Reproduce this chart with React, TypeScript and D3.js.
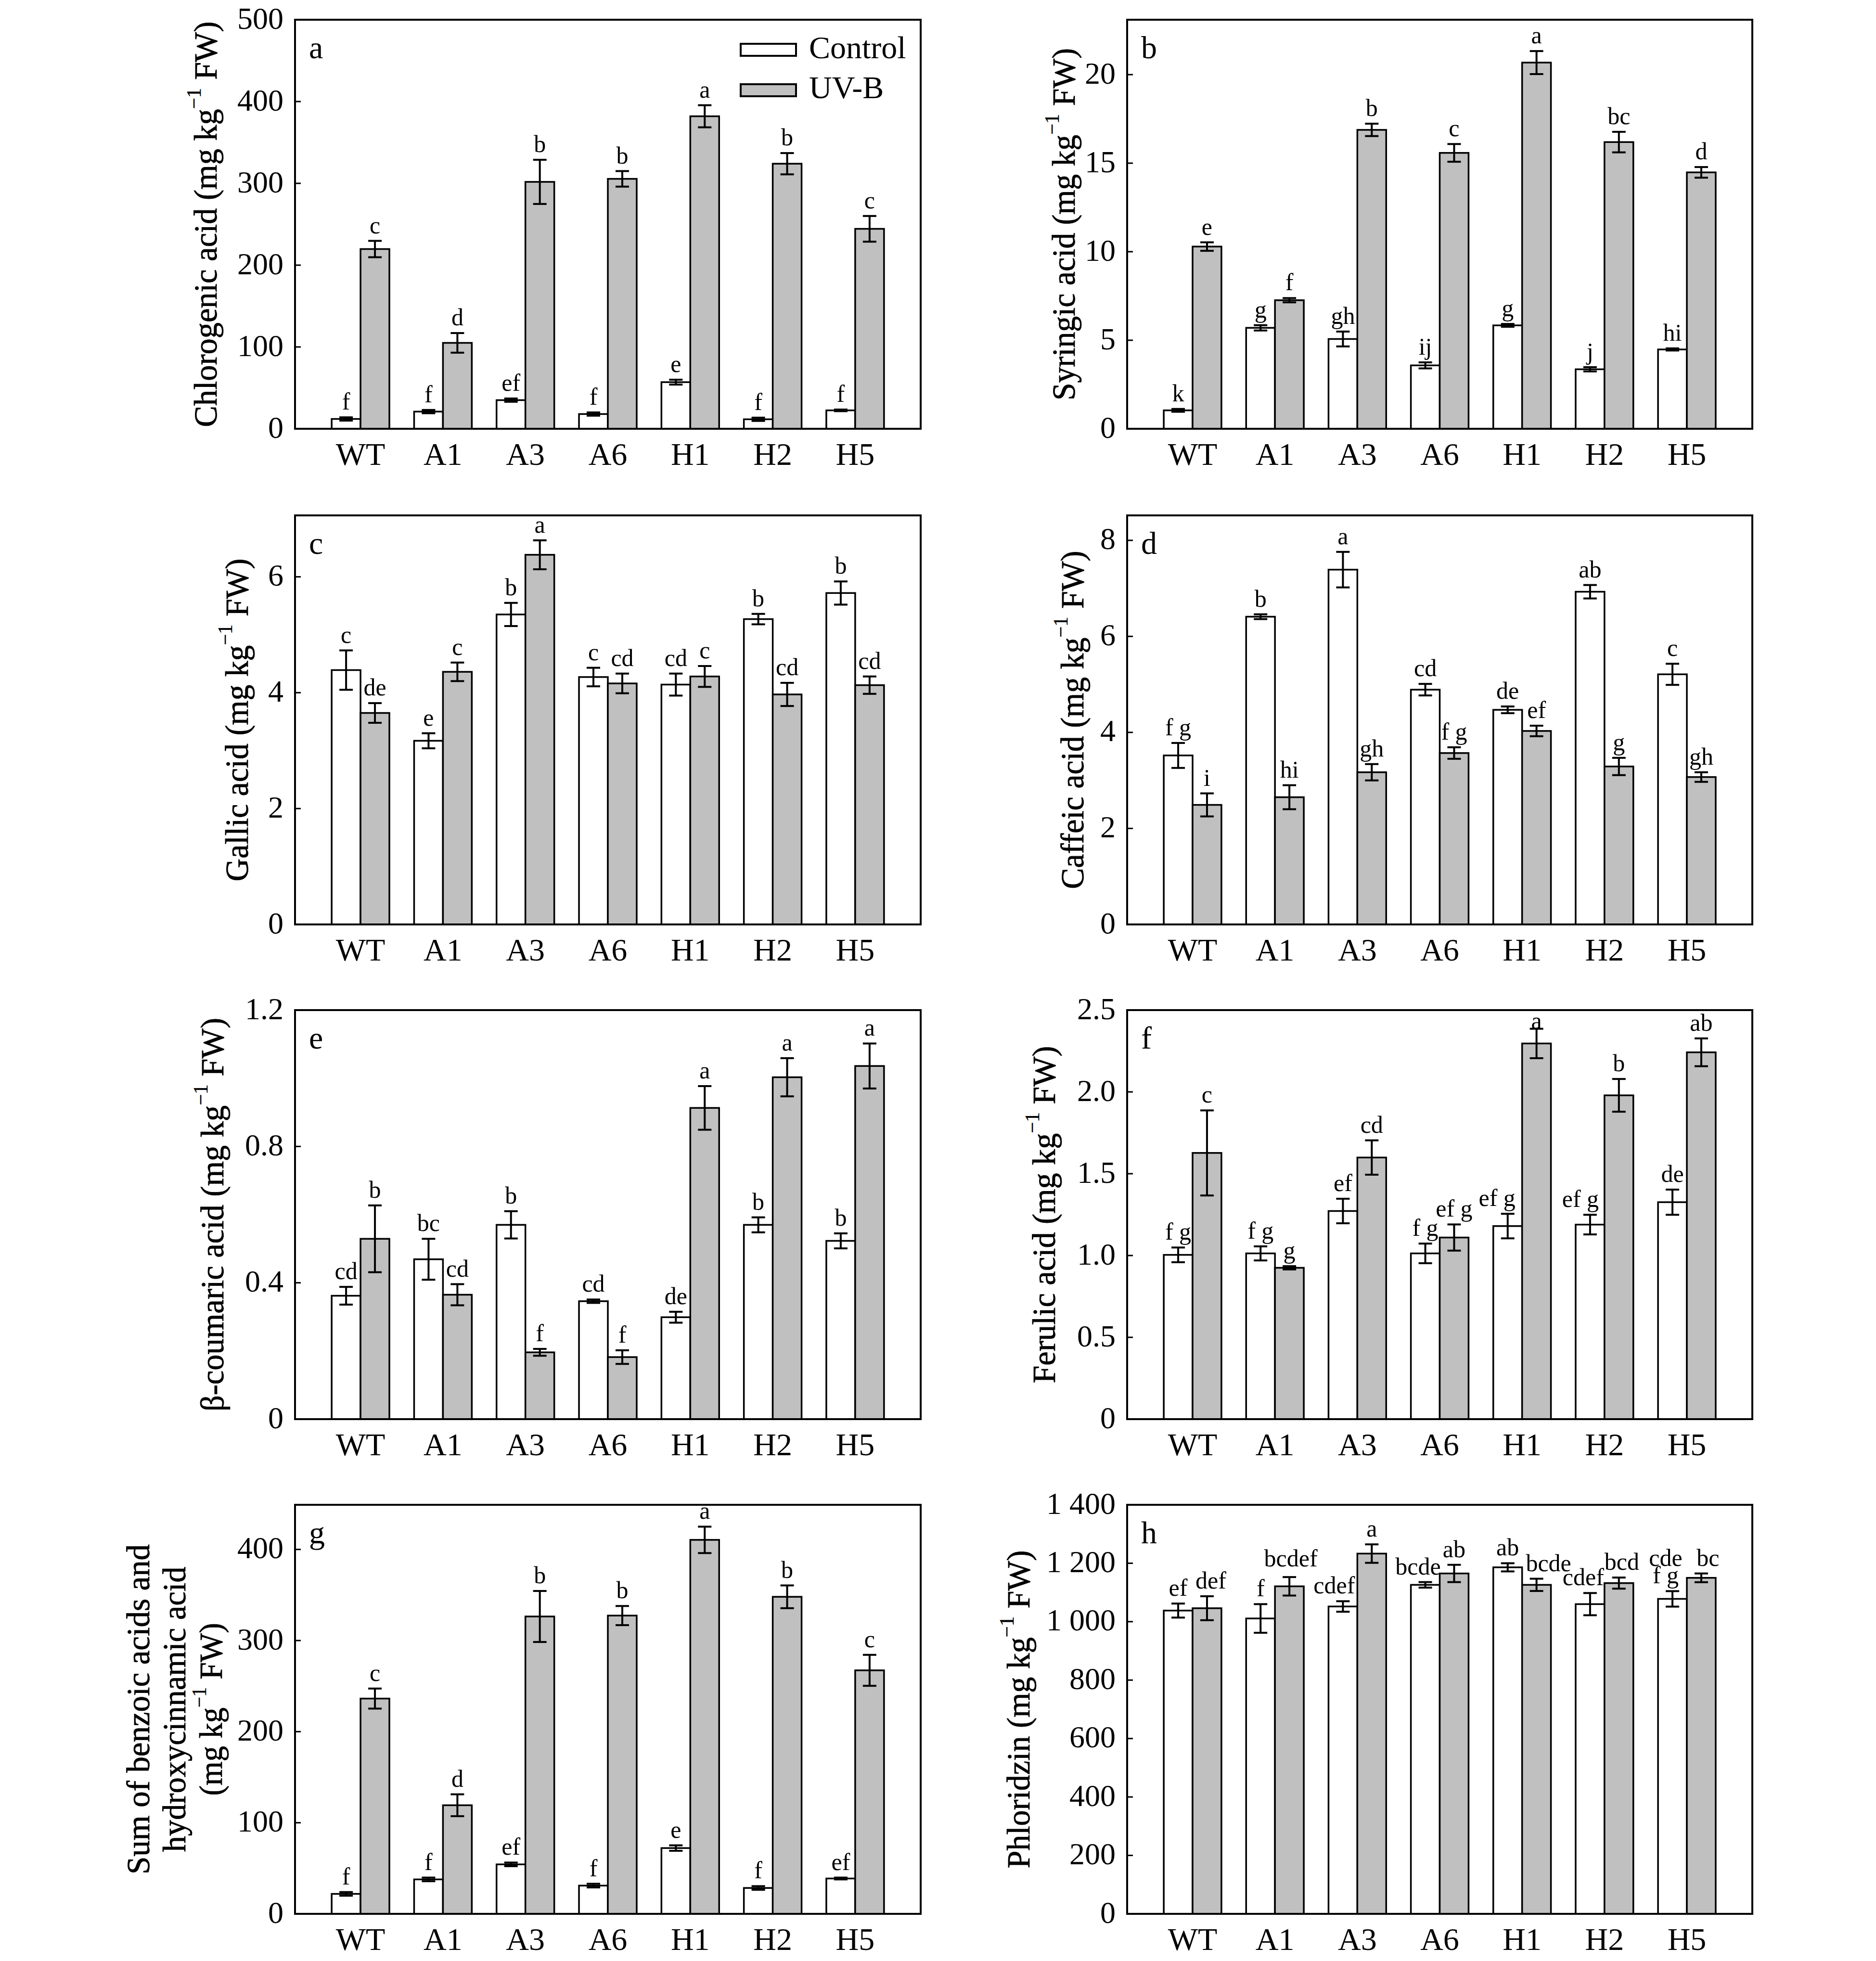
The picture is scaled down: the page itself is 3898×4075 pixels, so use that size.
import React from "react";
import * as d3 from "d3";

// Lines (genotypes) on the x axis
const lines = ["WT", "A1", "A3", "A6", "H1", "H2", "H5"];
const treatments = ["Control", "UV-B"];

// a: chlorogenic acid
const chlorogenicControl = [12, 21, 35, 18, 57, 11.6, 22.5];
const chlorogenicControlSE = [2, 2, 2, 2, 3, 2, 1];
const chlorogenicUVB = [219.7, 105, 301.8, 305.5, 382, 324, 244.4];
const chlorogenicUVBSE = [10, 12, 27, 9.5, 13.5, 13, 15.7];
const chlorogenicControlSig = ["f", "f", "ef", "f", "e", "f", "f"];
const chlorogenicUVBSig = ["c", "d", "b", "b", "a", "b", "c"];

// b: syringic acid
const syringicControl = [1.04, 5.7, 5.07, 3.58, 5.84, 3.36, 4.48];
const syringicControlSE = [0.08, 0.15, 0.42, 0.17, 0.08, 0.12, 0.06];
const syringicUVB = [10.29, 7.26, 16.88, 15.58, 20.68, 16.19, 14.48];
const syringicUVBSE = [0.24, 0.12, 0.35, 0.5, 0.65, 0.58, 0.3];
const syringicControlSig = ["k", "g", "gh", "ij", "g", "j", "hi"];
const syringicUVBSig = ["e", "f", "b", "c", "a", "bc", "d"];

// c: gallic acid
const gallicControl = [4.39, 3.17, 5.35, 4.27, 4.14, 5.27, 5.72];
const gallicControlSE = [0.34, 0.13, 0.2, 0.16, 0.19, 0.09, 0.2];
const gallicUVB = [3.65, 4.36, 6.38, 4.16, 4.28, 3.97, 4.13];
const gallicUVBSE = [0.17, 0.16, 0.25, 0.17, 0.18, 0.2, 0.15];
const gallicControlSig = ["c", "e", "b", "c", "cd", "b", "b"];
const gallicUVBSig = ["de", "c", "a", "cd", "c", "cd", "cd"];

// d: caffeic acid
const caffeicControl = [3.52, 6.41, 7.39, 4.89, 4.47, 6.93, 5.21];
const caffeicControlSE = [0.26, 0.05, 0.37, 0.12, 0.07, 0.14, 0.22];
const caffeicUVB = [2.49, 2.65, 3.17, 3.57, 4.03, 3.29, 3.07];
const caffeicUVBSE = [0.24, 0.25, 0.17, 0.12, 0.11, 0.18, 0.1];
const caffeicControlSig = ["f g", "b", "a", "cd", "de", "ab", "c"];
const caffeicUVBSig = ["i", "hi", "gh", "f g", "ef", "g", "gh"];

// e: β-coumaric acid
const coumaricControl = [0.362, 0.469, 0.57, 0.346, 0.299, 0.57, 0.523];
const coumaricControlSE = [0.026, 0.06, 0.04, 0.005, 0.016, 0.022, 0.022];
const coumaricUVB = [0.529, 0.365, 0.196, 0.182, 0.913, 1.003, 1.036];
const coumaricUVBSE = [0.098, 0.031, 0.01, 0.02, 0.064, 0.056, 0.066];
const coumaricControlSig = ["cd", "bc", "b", "cd", "de", "b", "b"];
const coumaricUVBSig = ["b", "cd", "f", "f", "a", "a", "a"];

// f: ferulic acid
const ferulicControl = [1.004, 1.013, 1.272, 1.013, 1.18, 1.189, 1.326];
const ferulicControlSE = [0.045, 0.043, 0.075, 0.06, 0.075, 0.06, 0.077];
const ferulicUVB = [1.627, 0.925, 1.599, 1.11, 2.296, 1.979, 2.242];
const ferulicUVBSE = [0.26, 0.01, 0.105, 0.08, 0.09, 0.1, 0.085];
const ferulicControlSig = ["f g", "f g", "ef", "f g", "ef g", "ef g", "de"];
const ferulicUVBSig = ["c", "g", "cd", "ef g", "a", "b", "ab"];

// g: sum of benzoic and hydroxycinnamic acids
const sumControl = [21.9, 37.8, 54.3, 31, 72.2, 28.4, 38.8];
const sumControlSE = [2, 2, 2, 2, 3, 2, 1];
const sumUVB = [236.3, 119.2, 326.4, 327.4, 410.5, 348, 267.3];
const sumUVBSE = [11, 12, 28, 10.5, 14.5, 12.5, 17];
const sumControlSig = ["f", "f", "ef", "f", "e", "f", "ef"];
const sumUVBSig = ["c", "d", "b", "b", "a", "b", "c"];

// h: phloridzin
const phloridzinControl = [1038, 1011, 1052, 1126, 1186, 1060, 1078];
const phloridzinControlSE = [24, 49, 18, 9.5, 14, 38, 26.5];
const phloridzinUVB = [1046, 1121, 1233, 1165, 1126, 1132, 1150];
const phloridzinUVBSE = [41, 31.6, 31.6, 29.6, 21, 19, 15];
const phloridzinControlSig = ["ef", "f", "cdef", "bcde", "ab", "cdef", "cde\nf g"];
const phloridzinUVBSig = ["def", "bcdef", "a", "ab", "bcde", "bcd", "bc"];

// y-axis ticks and their printed labels
const ticksA = [0, 100, 200, 300, 400, 500];
const tickLabelsA = ["0", "100", "200", "300", "400", "500"];
const ticksB = [0, 5, 10, 15, 20];
const tickLabelsB = ["0", "5", "10", "15", "20"];
const ticksC = [0, 2, 4, 6];
const tickLabelsC = ["0", "2", "4", "6"];
const ticksD = [0, 2, 4, 6, 8];
const tickLabelsD = ["0", "2", "4", "6", "8"];
const ticksE = [0, 0.4, 0.8, 1.2];
const tickLabelsE = ["0", "0.4", "0.8", "1.2"];
const ticksF = [0, 0.5, 1.0, 1.5, 2.0, 2.5];
const tickLabelsF = ["0", "0.5", "1.0", "1.5", "2.0", "2.5"];
const ticksG = [0, 100, 200, 300, 400];
const tickLabelsG = ["0", "100", "200", "300", "400"];
const ticksH = [0, 200, 400, 600, 800, 1000, 1200, 1400];
const tickLabelsH = ["0", "200", "400", "600", "800", "1 000", "1 200", "1 400"];

const FONT = "'Liberation Serif', 'Times New Roman', serif";
const UVB_FILL = "#c0c0c0";

const PLOT_H = 850;
const COL_LEFT = [613, 2342];
const COL_W = [1300, 1299];
const ROW_TOP = [41, 1071, 2099, 3127];
const SIG_GAP = 16;

// small nudges for crowded letter labels: "panel|treatment|line" -> [dx, dy]
const sigNudge: Record<string, [number, number]> = {
  "f|UV-B|H1": [0, 16],
  "f|Control|H1": [-22, 0],
  "f|Control|H2": [-20, 0],
  "h|Control|A3": [-18, 0],
  "h|Control|A6": [-15, 0],
  "h|UV-B|WT": [8, 0],
  "h|UV-B|A1": [3, -6],
  "h|UV-B|H1": [25, 0],
  "h|Control|H2": [-14, 0],
  "h|UV-B|H2": [6, 0],
  "h|Control|H5": [-14, 0],
  "h|UV-B|H5": [14, 0],
};

type Panel = {
  key: string;
  col: number;
  row: number;
  yMax: number;
  ticks: number[];
  tickLabels: string[];
  control: number[];
  controlSE: number[];
  uvb: number[];
  uvbSE: number[];
  controlSig: string[];
  uvbSig: string[];
  title: string[][]; // lines; each line = [before superscript, superscript, after]
  titleX: number[];
  titleLen: number[];
  legend?: boolean;
};

const unitLine = (name: string) => [name + " (mg kg", "\u22121", " FW)"];

const panels: Panel[] = [
  {
    key: "a", col: 0, row: 0, yMax: 500, ticks: ticksA, tickLabels: tickLabelsA,
    control: chlorogenicControl, controlSE: chlorogenicControlSE, uvb: chlorogenicUVB, uvbSE: chlorogenicUVBSE,
    controlSig: chlorogenicControlSig, uvbSig: chlorogenicUVBSig,
    title: [unitLine("Chlorogenic acid")], titleX: [-186], titleLen: [843], legend: true,
  },
  {
    key: "b", col: 1, row: 0, yMax: 23.1, ticks: ticksB, tickLabels: tickLabelsB,
    control: syringicControl, controlSE: syringicControlSE, uvb: syringicUVB, uvbSE: syringicUVBSE,
    controlSig: syringicControlSig, uvbSig: syringicUVBSig,
    title: [unitLine("Syringic acid")], titleX: [-132], titleLen: [732],
  },
  {
    key: "c", col: 0, row: 1, yMax: 7.06, ticks: ticksC, tickLabels: tickLabelsC,
    control: gallicControl, controlSE: gallicControlSE, uvb: gallicUVB, uvbSE: gallicUVBSE,
    controlSig: gallicControlSig, uvbSig: gallicUVBSig,
    title: [unitLine("Gallic acid")], titleX: [-121], titleLen: [671],
  },
  {
    key: "d", col: 1, row: 1, yMax: 8.52, ticks: ticksD, tickLabels: tickLabelsD,
    control: caffeicControl, controlSE: caffeicControlSE, uvb: caffeicUVB, uvbSE: caffeicUVBSE,
    controlSig: caffeicControlSig, uvbSig: caffeicUVBSig,
    title: [unitLine("Caffeic acid")], titleX: [-114], titleLen: [703],
  },
  {
    key: "e", col: 0, row: 2, yMax: 1.2, ticks: ticksE, tickLabels: tickLabelsE,
    control: coumaricControl, controlSE: coumaricControlSE, uvb: coumaricUVB, uvbSE: coumaricUVBSE,
    controlSig: coumaricControlSig, uvbSig: coumaricUVBSig,
    title: [unitLine("\u03b2-coumaric acid")], titleX: [-172], titleLen: [818],
  },
  {
    key: "f", col: 1, row: 2, yMax: 2.5, ticks: ticksF, tickLabels: tickLabelsF,
    control: ferulicControl, controlSE: ferulicControlSE, uvb: ferulicUVB, uvbSE: ferulicUVBSE,
    controlSig: ferulicControlSig, uvbSig: ferulicUVBSig,
    title: [unitLine("Ferulic acid")], titleX: [-173], titleLen: [701],
  },
  {
    key: "g", col: 0, row: 3, yMax: 449, ticks: ticksG, tickLabels: tickLabelsG,
    control: sumControl, controlSE: sumControlSE, uvb: sumUVB, uvbSE: sumUVBSE,
    controlSig: sumControlSig, uvbSig: sumUVBSig,
    title: [["Sum of benzoic acids and", "", ""], ["hydroxycinnamic acid", "", ""], ["(mg kg", "\u22121", " FW)"]],
    titleX: [-326, -251, -175], titleLen: [686, 593, 359],
  },
  {
    key: "h", col: 1, row: 3, yMax: 1400, ticks: ticksH, tickLabels: tickLabelsH,
    control: phloridzinControl, controlSE: phloridzinControlSE, uvb: phloridzinUVB, uvbSE: phloridzinUVBSE,
    controlSig: phloridzinControlSig, uvbSig: phloridzinUVBSig,
    title: [unitLine("Phloridzin")], titleX: [-226], titleLen: [661],
  },
];

function PanelChart({ p }: { p: Panel }) {
  const left = COL_LEFT[p.col];
  const width = COL_W[p.col];
  const top = ROW_TOP[p.row];

  const y = d3.scaleLinear().domain([0, p.yMax]).range([PLOT_H, 0]);
  const x0 = d3.scaleBand().domain(lines).range([0, width]).paddingInner(0.3).paddingOuter(0.4445);
  const x1 = d3.scaleBand().domain(treatments).range([0, x0.bandwidth()]);
  const bw = x1.bandwidth();
  const capHalf = 14;

  const series = [
    { t: "Control", vals: p.control, se: p.controlSE, sig: p.controlSig, fill: "#ffffff" },
    { t: "UV-B", vals: p.uvb, se: p.uvbSE, sig: p.uvbSig, fill: UVB_FILL },
  ];

  const titleY = PLOT_H / 2;

  return (
    <g transform={`translate(${left},${top})`}>
      {/* bars, error bars and significance letters */}
      {series.map((s) =>
        lines.map((ln, i) => {
          const bx = (x0(ln) as number) + (x1(s.t) as number);
          const cx = bx + bw / 2;
          const v = s.vals[i];
          const e = s.se[i];
          const yTop = y(v + e);
          const sigLines = s.sig[i].split("\n");
          const [ndx, ndy] = sigNudge[`${p.key}|${s.t}|${ln}`] || [0, 0];
          const lx = cx + ndx;
          const ly = yTop - SIG_GAP + ndy;
          return (
            <g key={s.t + ln}>
              <rect x={bx} y={y(v)} width={bw} height={y(0) - y(v)} fill={s.fill} stroke="#000" strokeWidth={3.5} />
              <line x1={cx} x2={cx} y1={y(v - e)} y2={y(v + e)} stroke="#000" strokeWidth={4} />
              <line x1={cx - capHalf} x2={cx + capHalf} y1={y(v + e)} y2={y(v + e)} stroke="#000" strokeWidth={4} />
              <line x1={cx - capHalf} x2={cx + capHalf} y1={y(v - e)} y2={y(v - e)} stroke="#000" strokeWidth={4} />
              {sigLines.map((t, k) => (
                <text
                  key={"s" + k}
                  x={lx}
                  y={ly - (sigLines.length - 1 - k) * 36}
                  textAnchor="middle"
                  fontFamily={FONT}
                  fontSize={50}
                >
                  {t}
                </text>
              ))}
            </g>
          );
        })
      )}

      {/* frame */}
      <rect x={0} y={0} width={width} height={PLOT_H} fill="none" stroke="#000" strokeWidth={4} />

      {/* y ticks */}
      {p.ticks.map((t, i) => (
        <g key={"t" + i} transform={`translate(0,${y(t)})`}>
          <line x1={0} x2={12} stroke="#000" strokeWidth={3} />
          <text x={-24} dy={-3} textAnchor="end" dominantBaseline="central" fontFamily={FONT} fontSize={64}>
            {p.tickLabels[i]}
          </text>
        </g>
      ))}

      {/* x labels */}
      {lines.map((ln) => (
        <text key={"x" + ln} x={(x0(ln) as number) + x0.bandwidth() / 2} y={PLOT_H + 75} textAnchor="middle" fontFamily={FONT} fontSize={66}>
          {ln}
        </text>
      ))}

      {/* panel letter */}
      <text x={29} y={80} fontFamily={FONT} fontSize={66}>
        {p.key}
      </text>

      {/* y title */}
      {p.title.map((parts, k) => (
        <text
          key={"ti" + k}
          transform={`translate(${p.titleX[k]},${titleY}) rotate(-90)`}
          textAnchor="middle"
          dominantBaseline="central"
          fontFamily={FONT}
          fontSize={68}
          stroke="#000"
          strokeWidth={0.8}
          textLength={p.titleLen[k]}
          lengthAdjust="spacingAndGlyphs"
        >
          {parts[0]}
          {parts[1] ? (
            <tspan fontSize={42} dy={-24} strokeWidth={0.5}>
              {parts[1]}
            </tspan>
          ) : null}
          {parts[2] ? <tspan dy={parts[1] ? 24 : 0}>{parts[2]}</tspan> : null}
        </text>
      ))}

      {/* legend */}
      {p.legend ? (
        <g>
          <rect x={926} y={50} width={115} height={25} fill="#fff" stroke="#000" strokeWidth={4} />
          <text x={1068} y={80} fontFamily={FONT} fontSize={66}>Control</text>
          <rect x={926} y={134} width={115} height={25} fill={UVB_FILL} stroke="#000" strokeWidth={4} />
          <text x={1068} y={163} fontFamily={FONT} fontSize={66}>UV-B</text>
        </g>
      ) : null}
    </g>
  );
}

export default function App() {
  return (
    <div style={{ position: "absolute", left: 0, top: 0 }}>
      <svg width={3898} height={4075} viewBox="0 0 3898 4075" style={{ display: "block", background: "#fff" }}>
        <rect x={0} y={0} width={3898} height={4075} fill="#fff" />
        {panels.map((p) => (
          <PanelChart key={p.key} p={p} />
        ))}
      </svg>
    </div>
  );
}
